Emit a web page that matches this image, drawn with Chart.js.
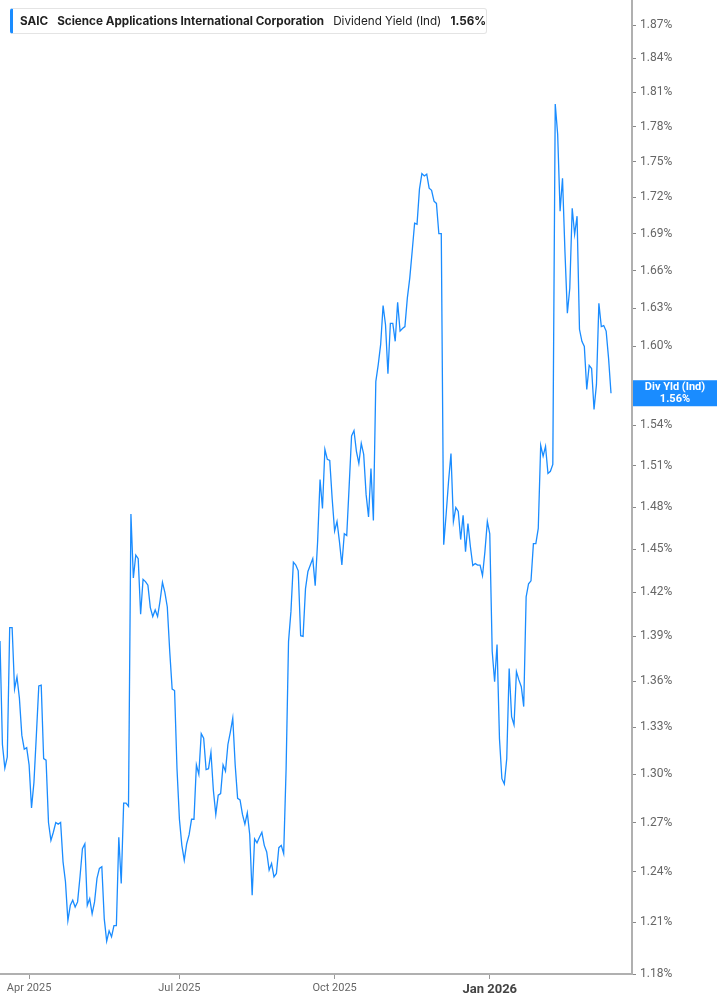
<!DOCTYPE html>
<html>
<head>
<meta charset="utf-8">
<script src="https://cdn.jsdelivr.net/npm/chart.js@4.4.1/dist/chart.umd.min.js"></script>
<style>
  body { margin: 0; background: #fff; }
  #wrap { position: relative; width: 717px; height: 1005px; }
  #head {
    position: absolute; left: 10px; top: 8px; height: 24px; width: 466px;
    border: 1px solid #e4e4e4; border-left: 3px solid #1a8cff; border-radius: 3px;
    font-family: Inter, "Noto Sans", sans-serif; font-size: 11.7px; color: #222;
    line-height: 24px; padding-left: 7px; box-sizing: content-box; white-space: nowrap;
  }
  #head b { font-weight: 700; }
  #head span { margin-right: 9px; }
</style>
</head>
<body>
<div id="wrap">
  <canvas id="chart" width="717" height="1005"></canvas>
  <div id="head"><span><b>SAIC</b></span><span><b>Science Applications International Corporation</b></span><span>Dividend Yield (Ind)</span><b>1.56%</b></div>
</div>
<script>
// dividend yield (%), one value per trading day from mid Mar 2025
const yieldVals = [
  1.387, 1.319, 1.304, 1.311, 1.396, 1.396, 1.355, 1.363, 1.349, 1.325,
  1.316, 1.317, 1.306, 1.279, 1.295, 1.325, 1.357, 1.3575, 1.310, 1.309,
  1.270, 1.259, 1.264, 1.270, 1.269, 1.270, 1.246, 1.234, 1.211, 1.220,
  1.223, 1.219, 1.222, 1.237, 1.254, 1.257, 1.220, 1.224, 1.215, 1.222,
  1.236, 1.242, 1.243, 1.212, 1.199, 1.205, 1.2015, 1.208, 1.208, 1.261,
  1.233, 1.282, 1.282, 1.280, 1.475, 1.430, 1.446, 1.4435, 1.405, 1.429,
  1.4275, 1.425, 1.4096, 1.4035, 1.408, 1.4035, 1.414, 1.427, 1.420, 1.410,
  1.380, 1.355, 1.354, 1.3036, 1.272, 1.256, 1.247, 1.257, 1.2625, 1.272,
  1.272, 1.306, 1.300, 1.326, 1.323, 1.303, 1.3036, 1.314, 1.290, 1.275,
  1.287, 1.288, 1.306, 1.302, 1.319, 1.327, 1.336, 1.306, 1.285, 1.284,
  1.275, 1.269, 1.276, 1.2625, 1.226, 1.260, 1.2576, 1.261, 1.264, 1.256,
  1.252, 1.241, 1.245, 1.237, 1.239, 1.2546, 1.256, 1.251, 1.3036, 1.3865,
  1.407, 1.441, 1.439, 1.435, 1.3905, 1.390, 1.4226, 1.4345, 1.439, 1.4435,
  1.4247, 1.4555, 1.500, 1.479, 1.522, 1.5147, 1.514, 1.486, 1.463, 1.4697,
  1.4555, 1.439, 1.461, 1.4597, 1.495, 1.532, 1.536, 1.5206, 1.5117, 1.5265,
  1.5184, 1.489, 1.473, 1.508, 1.4705, 1.573, 1.586, 1.6016, 1.632, 1.617,
  1.579, 1.618, 1.618, 1.604, 1.6346, 1.612, 1.614, 1.6155, 1.638, 1.654,
  1.6757, 1.6986, 1.6978, 1.7269, 1.740, 1.738, 1.7395, 1.7277, 1.726, 1.7168,
  1.715, 1.690, 1.690, 1.4533, 1.4747, 1.4986, 1.519, 1.4697, 1.4797, 1.4769,
  1.4569, 1.4741, 1.4484, 1.4683, 1.452, 1.4386, 1.440, 1.439, 1.439, 1.4317,
  1.4484, 1.4697, 1.461, 1.380, 1.3598, 1.3845, 1.3227, 1.2973, 1.294, 1.310,
  1.3685, 1.337, 1.3317, 1.3665, 1.361, 1.3565, 1.3435, 1.417, 1.426, 1.428,
  1.454, 1.454, 1.4648, 1.525, 1.517, 1.5243, 1.5044, 1.506, 1.511, 1.7997,
  1.7736, 1.7086, 1.7361, 1.6757, 1.626, 1.6458, 1.711, 1.6895, 1.7044, 1.6134,
  1.604, 1.6001, 1.567, 1.5854, 1.583, 1.5519, 1.5708, 1.6338, 1.6155, 1.6163,
  1.612, 1.5908, 1.5641
];

// x axis: trading-day index of the first session of each labelled month
const monthTickIdx = [12, 74, 138, 202];
const monthTickLabels = ['Apr 2025', 'Jul 2025', 'Oct 2025', 'Jan 2026'];

const yTickVals = [1.18, 1.21, 1.24, 1.27, 1.30, 1.33, 1.36, 1.39, 1.42, 1.45, 1.48, 1.51,
  1.54, 1.60, 1.63, 1.66, 1.69, 1.72, 1.75, 1.78, 1.81, 1.84, 1.87];

const lastLabel = ['Div Yld (Ind)', '1.56%'];
const blue = '#1a8cff';

const points = yieldVals.map((v, i) => ({ x: i, y: v }));

const badgePlugin = {
  id: 'badge',
  afterDraw(chart) {
    const ctx = chart.ctx;
    const ys = chart.scales.y;
    const y = ys.getPixelForValue(yieldVals[yieldVals.length - 1]);
    const left = chart.chartArea.right + 1;
    ctx.save();
    ctx.fillStyle = blue;
    ctx.fillRect(left, y - 13, chart.width - left, 26);
    ctx.fillStyle = '#fff';
    ctx.font = 'bold 11px Roboto, sans-serif';
    ctx.textAlign = 'center';
    ctx.textBaseline = 'middle';
    const cx = (left + chart.width) / 2;
    ctx.fillText(lastLabel[0], cx, y - 6);
    ctx.fillText(lastLabel[1], cx, y + 6);
    ctx.restore();
  }
};

function noPad(scale) {
  scale.paddingTop = 0;
  scale.paddingBottom = 0;
  scale.paddingLeft = 0;
  scale.paddingRight = 0;
}

new Chart(document.getElementById('chart'), {
  type: 'line',
  data: {
    datasets: [{
      data: points,
      borderColor: blue,
      borderWidth: 1.3,
      pointRadius: 0,
      tension: 0,
      fill: false
    }]
  },
  options: {
    responsive: false,
    animation: false,
    layout: { padding: { top: 1 } },
    plugins: { legend: { display: false }, tooltip: { enabled: false } },
    scales: {
      x: {
        type: 'linear',
        min: 0,
        max: 260.66,
        afterBuildTicks: s => { s.ticks = monthTickIdx.map(v => ({ value: v })); },
        afterFit: s => { s.height = 31; noPad(s); },
        ticks: {
          autoSkip: false,
          maxRotation: 0,
          padding: 3,
          color: ctx => ctx.tick && ctx.tick.value === 202 ? '#444' : '#666',
          font: ctx => ctx.tick && ctx.tick.value === 202
            ? { family: 'Roboto', size: 13, weight: 'bold' }
            : { family: 'Roboto', size: 11 },
          callback: v => monthTickLabels[monthTickIdx.indexOf(v)]
        },
        grid: { drawOnChartArea: false, tickLength: 5, color: '#999' },
        border: { color: '#b0b0b0', width: 2 }
      },
      y: {
        type: 'logarithmic',
        position: 'right',
        min: 1.18,
        max: 1.892,
        afterBuildTicks: s => { s.ticks = yTickVals.map(v => ({ value: v })); },
        afterFit: s => { s.width = 85; noPad(s); },
        ticks: {
          autoSkip: false,
          padding: 4,
          color: '#666',
          font: { family: 'Roboto', size: 12 },
          callback: v => v.toFixed(2) + '%'
        },
        grid: { drawOnChartArea: false, tickLength: 4, color: '#888' },
        border: { color: '#b0b0b0', width: 2 }
      }
    }
  },
  plugins: [badgePlugin]
});
</script>
</body>
</html>
